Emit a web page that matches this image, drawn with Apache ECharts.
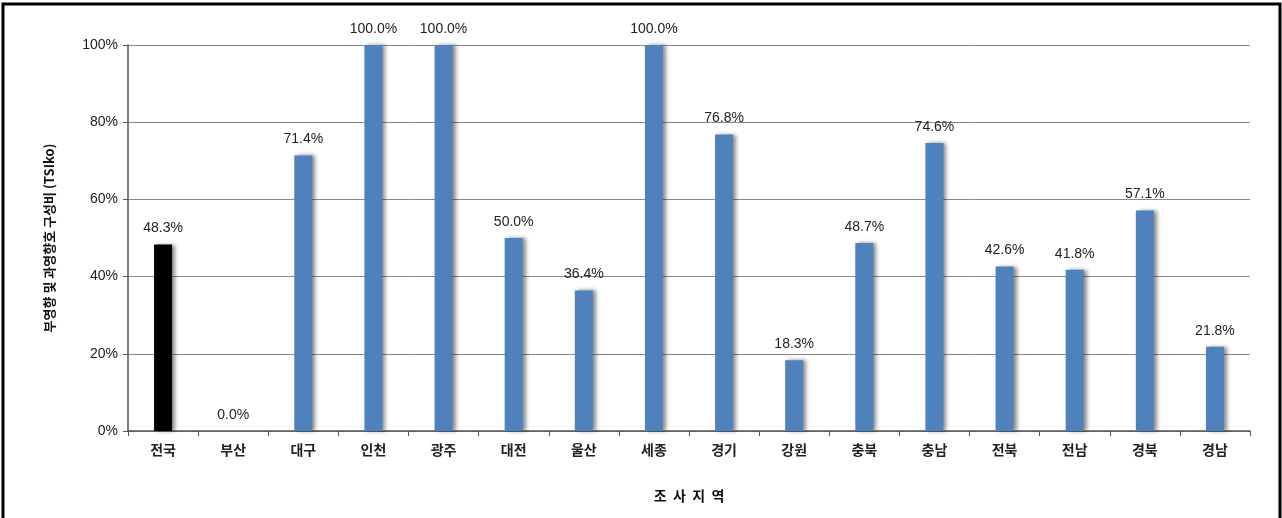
<!DOCTYPE html>
<html>
<head>
<meta charset="utf-8">
<script src="https://cdn.jsdelivr.net/npm/echarts@6/dist/echarts.min.js"></script>
<style>
  html, body { margin: 0; padding: 0; background: #fff; }
  #main { width: 1282px; height: 518px; }
</style>
</head>
<body>
<div id="main"></div>
<script>
// 지역 및 구성비 데이터
const regions = ['전국', '부산', '대구', '인천', '광주', '대전', '울산', '세종', '경기', '강원', '충북', '충남', '전북', '전남', '경북', '경남'];
const ratios = [48.3, 0.0, 71.4, 100.0, 100.0, 50.0, 36.4, 100.0, 76.8, 18.3, 48.7, 74.6, 42.6, 41.8, 57.1, 21.8];
const yTicks = [0, 20, 40, 60, 80, 100];

const fontKo = '"Noto Sans CJK KR", "Noto Sans", sans-serif';

var myChart = echarts.init(document.getElementById('main'));

// 전국은 검은색, 나머지는 파란색
const barData = ratios.map((v, i) => ({
  value: v,
  itemStyle: { color: i === 0 ? '#000000' : '#4F81BD' }
}));

var option = {
  animation: false,
  graphic: [{
    type: 'rect',
    shape: { x: 3, y: 4, width: 1277, height: 520 },
    style: { fill: 'none', stroke: '#000', lineWidth: 3 }
  }],
  grid: { left: 128, right: 32, top: 45, bottom: 87 },
  xAxis: {
    type: 'category',
    data: regions,
    name: '조  사  지  역',
    nameLocation: 'middle',
    nameGap: 58,
    nameTextStyle: { fontFamily: fontKo, fontSize: 14, fontWeight: 'bold', color: '#111' },
    axisLine: { lineStyle: { color: '#555', width: 1.5 } },
    axisTick: { show: true, length: 5, lineStyle: { color: '#555' } },
    axisLabel: { fontFamily: fontKo, fontSize: 14, fontWeight: 'bold', color: '#222', margin: 12 }
  },
  yAxis: {
    type: 'value',
    min: yTicks[0],
    max: yTicks[yTicks.length - 1],
    interval: 20,
    name: '부영향 및 과영향호 구성비 (TSIko)',
    nameLocation: 'middle',
    nameGap: 72,
    nameRotate: 90,
    nameTextStyle: { fontFamily: fontKo, fontSize: 13, fontWeight: 'bold', color: '#111' },
    axisLine: { show: true, lineStyle: { color: '#555', width: 1.5 } },
    axisTick: { show: true, length: 5, lineStyle: { color: '#555' } },
    axisLabel: { formatter: '{value}%', fontFamily: 'Liberation Sans, Arial, sans-serif', fontSize: 14, color: '#222', margin: 10 },
    splitLine: { lineStyle: { color: '#8a8a8a', width: 1 } }
  },
  series: [{
    type: 'bar',
    data: barData,
    barWidth: 18,
    itemStyle: {
      shadowColor: 'rgba(0,0,0,0.45)',
      shadowBlur: 4,
      shadowOffsetX: 3,
      shadowOffsetY: 0
    },
    label: {
      show: true,
      position: 'top',
      distance: 9,
      formatter: p => p.value.toFixed(1) + '%',
      fontFamily: 'Liberation Sans, Arial, sans-serif',
      fontSize: 14,
      color: '#222'
    }
  }]
};

myChart.setOption(option);
</script>
</body>
</html>
